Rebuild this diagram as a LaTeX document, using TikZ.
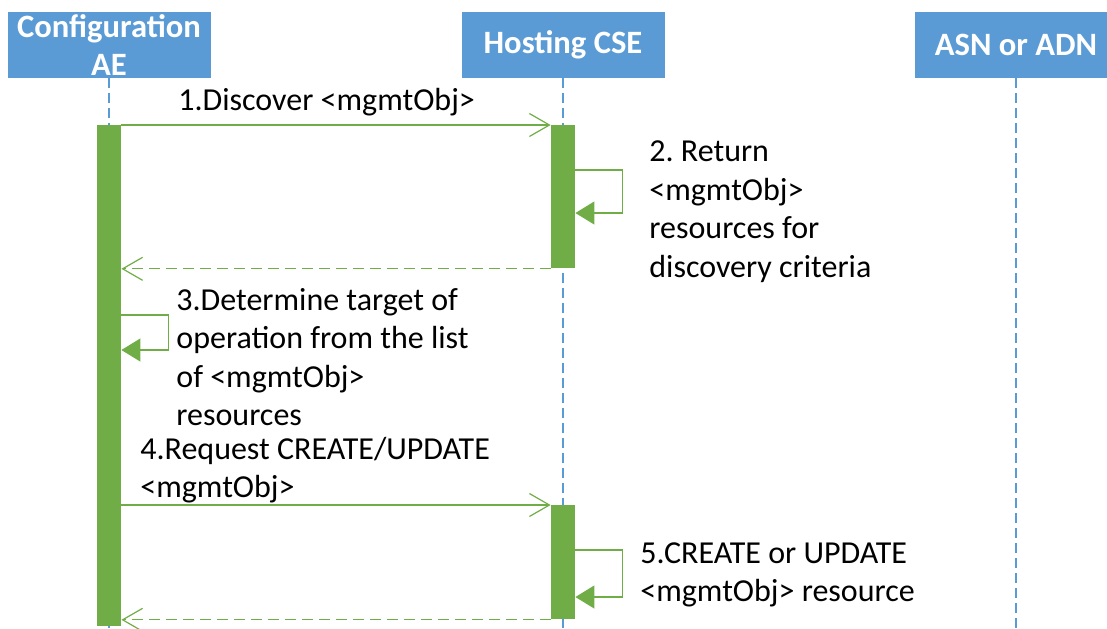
\documentclass[tikz,border=0pt]{standalone}
\usepackage{fontspec}
\setmainfont{Carlito}
\frenchspacing
\usetikzlibrary{arrows.meta,positioning}
\definecolor{hdrblue}{HTML}{5B9BD5}
\definecolor{actgreen}{HTML}{70AD47}

\begin{document}
\begin{tikzpicture}
[x=0.5pt,y=-0.5pt,
 header/.style={rectangle,fill=hdrblue,text=white,font=\fontsize{16.3}{19}\selectfont\bfseries,minimum width=101.5pt,minimum height=33pt,inner sep=0pt,align=center},
 bar/.style={rectangle,fill=actgreen,minimum width=12pt,inner sep=0pt,anchor=north},
 lifeline/.style={draw=hdrblue,line width=0.7pt,dash pattern=on 5pt off 2.5pt},
 call/.style={draw=actgreen,line width=0.6pt,-{Straight Barb[length=10pt,width=11.5pt]}},
 reply/.style={call,dash pattern=on 5.5pt off 3pt},
 self/.style={draw=actgreen,line width=0.6pt,-{Triangle[length=9.5pt,width=11.5pt]}},
 msgtext/.style={font=\fontsize{16}{19.25}\selectfont,align=left,inner sep=0pt,anchor=west}]

\useasboundingbox (0,0) rectangle (1107,628);

\node[header] (AE) at (109,45) {Configuration\\AE};
\node[header] (CSE) at (563,45) {Hosting CSE};
\node[header] (ADN) at (1016,45) {ASN or ADN};

\coordinate (AE end) at (109,628);
\coordinate (CSE end) at (563,628);
\coordinate (ADN end) at (1016,628);

\draw[lifeline] (AE) -- (AE end);
\draw[lifeline] (CSE) -- (CSE end);
\draw[lifeline] (ADN) -- (ADN end);

\node[bar,minimum height=250.5pt] (AE bar) at (109,125) {};
\node[bar,minimum height=71.5pt] (CSE bar1) at (563,125) {};
\node[bar,minimum height=57pt] (CSE bar2) at (563,505) {};

% discovery
\draw[call] (AE bar.north east) -- (CSE bar1.north west);
\node[msgtext,anchor=base west] (m1) at (178,110.5) {1.Discover <mgmtObj>};

\draw[self] ([yshift=-22.5pt]CSE bar1.north east) -- ++(47,0) |- ([yshift=-44pt]CSE bar1.north east);
\node[msgtext] (m2) at (649,211.5) {2. Return\\<mgmtObj>\\resources for\\discovery criteria};

\draw[reply] (CSE bar1.south west) -- (CSE bar1.south west -| AE bar.east);

% target selection
\draw[self] ([yshift=-95pt]AE bar.north east) -- ++(47,0) |- ([yshift=-112.5pt]AE bar.north east);
\node[msgtext] (m3) at (176,357) {3.Determine target of\\operation from the list\\of <mgmtObj>\\resources};

% create / update
\node[msgtext] (m4) at (140,470) {4.Request CREATE/UPDATE\\<mgmtObj>};
\draw[call] (CSE bar2.north west -| AE bar.east) -- (CSE bar2.north west);

\draw[self] ([yshift=-22.5pt]CSE bar2.north east) -- ++(47,0) |- ([yshift=-46pt]CSE bar2.north east);
\node[msgtext] (m5) at (640,575) {5.CREATE or UPDATE\\<mgmtObj> resource};

\draw[reply] (CSE bar2.south west) -- (CSE bar2.south west -| AE bar.east);
\end{tikzpicture}
\end{document}
